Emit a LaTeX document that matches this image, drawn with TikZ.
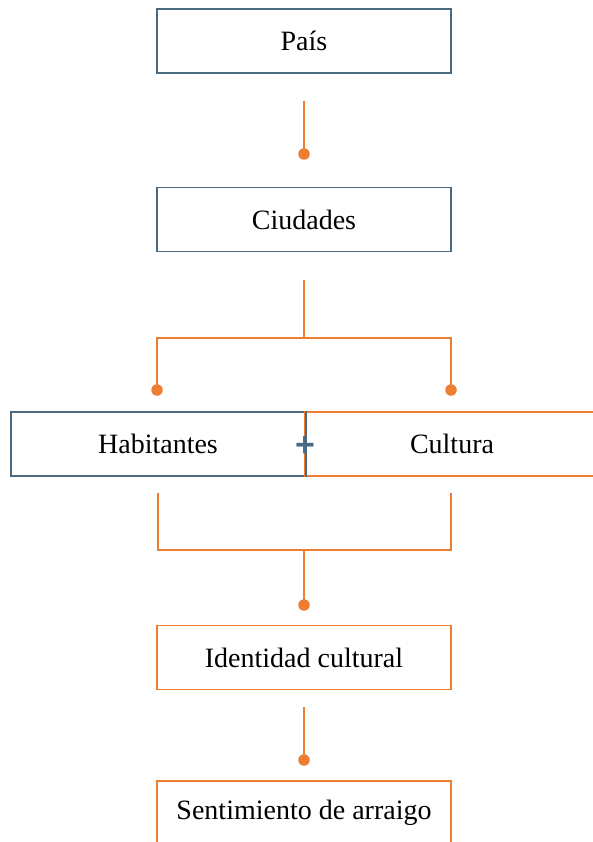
\documentclass[tikz,border=0pt]{standalone}
\usepackage{fontspec}
\setmainfont{Liberation Serif}
\newfontfamily\masfont{Liberation Sans}
\usepackage{tikz}
\usetikzlibrary{positioning}

\definecolor{slate}{RGB}{74,106,130}
\definecolor{naranja}{RGB}{237,125,49}

\begin{document}
\begin{tikzpicture}[
		x = 1pt, y = -1pt, % one unit per pixel, y downwards
		line width = 1.5pt, % box line style
		node distance = 113pt % distance between boxes
		]
		
		\tikzstyle{caja}=[
		draw = slate,
		fill = white,
		minimum width = 294pt,
		minimum height = 64pt,
		inner sep = 0pt,
		font = \fontsize{28}{32}\selectfont
		]
		\tikzstyle{naranjacaja}=[caja, draw = naranja]
		\tikzstyle{enlace}=[draw = naranja, line width = 2.2pt]
		\tikzstyle{punto}=[circle, fill = naranja, inner sep = 0pt, minimum size = 11.5pt]
		
		\clip (0,0) rectangle (593,842);
		\useasboundingbox (0,0) rectangle (593,842);
		
		\node[caja] (pais) at (304,41) {País};
		\node[caja] (ciudades) [below=113pt of pais] {Ciudades};
		\node[caja] (habitantes) at (158,444) {Habitantes};
		\node[naranjacaja] (cultura) at (452,444) {Cultura};
		\node[naranjacaja] (identidad) at (304,657.5) {Identidad cultural};
		\node[naranjacaja] (arraigo) at (304,813) {Sentimiento de arraigo};
		\draw[slate] (habitantes.north east) -- (habitantes.south east);
		\node[text = slate, font = \fontsize{34}{36}\masfont\bfseries, inner sep = 0pt] (mas) at (305,447) {+};
		
		% dots
		\node[punto] (p1) at (304,154) {};
		\node[punto] (p2) at (157,390) {};
		\node[punto] (p3) at (451,390) {};
		\node[punto] (p4) at (304,605) {};
		\node[punto] (p5) at (304,760) {};
		
		\coordinate (r1) at (304,338);
		\coordinate (r2) at (304,550);
		
		\path[enlace] ([yshift=-27pt]pais.south) -- (p1.center);
		\path[enlace] ([yshift=-28pt]ciudades.south) -- (r1) -| (p2.center);
		\path[enlace] (r1) -| (p3.center);
		\path[enlace] ([yshift=-16pt]habitantes.south) |- (r2) -| ([yshift=-16pt,xshift=-1pt]cultura.south);
		\path[enlace] (r2) -- (p4.center);
		\path[enlace] ([yshift=-17pt]identidad.south) -- (p5.center);
		
		\end{tikzpicture}
\end{document}
